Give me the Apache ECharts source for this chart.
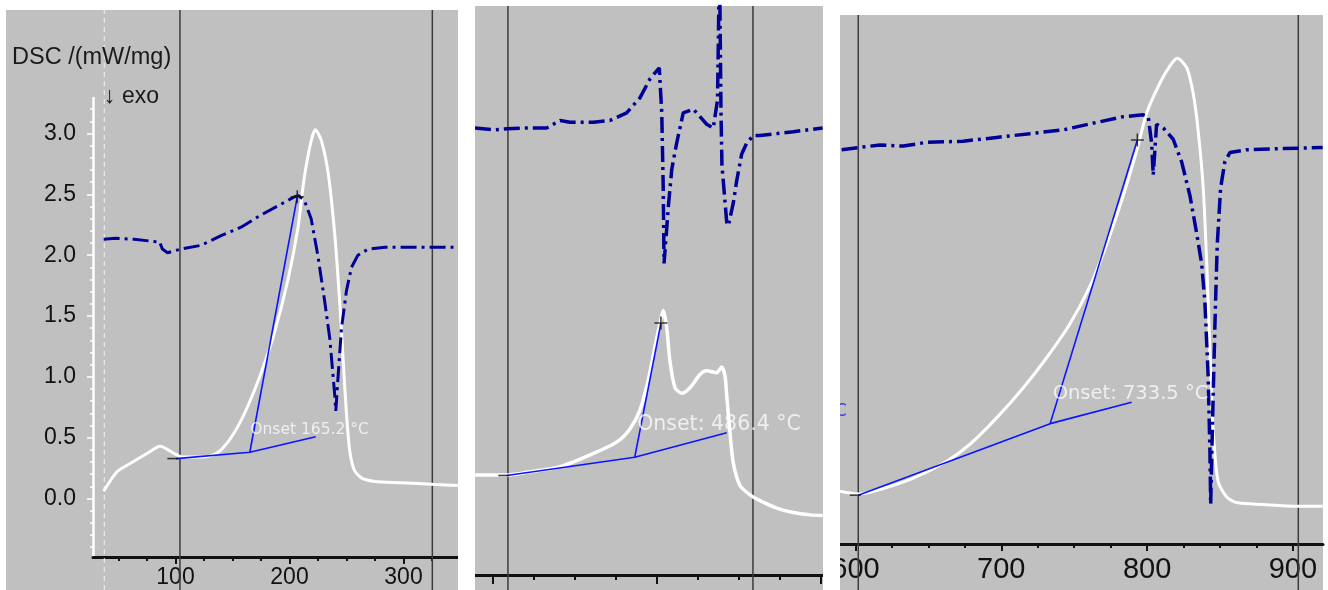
<!DOCTYPE html>
<html>
<head>
<meta charset="utf-8">
<title>DSC</title>
<script src="https://cdn.jsdelivr.net/npm/echarts@6/dist/echarts.min.js"></script>
<style>
  html, body { margin: 0; padding: 0; background: #ffffff; }
  #chart { width: 1328px; height: 590px; }
</style>
</head>
<body>
<div id="chart"></div>
<script>
// ---- Segment 1 (room temperature to 350 °C) -------------------------------
const dsc1 = [[37,0.06],[48.7,0.22],[60.6,0.29],[75,0.37],[86.6,0.43],[98.7,0.37],[106,0.34],[119,0.34],[131,0.35],[140,0.40],[151.5,0.54],[163,0.75],[175,1.03],[187,1.37],[198.7,1.80],[207.5,2.23],[213,2.64],[219,2.94],[222.7,3.03],[228,2.94],[234,2.67],[239.7,2.17],[244,1.62],[247,1.15],[250,0.69],[253,0.38],[257,0.23],[263,0.17],[275,0.14],[298,0.13],[327.8,0.115],[347.8,0.106]];
const ddsc1 = [[37,2.13],[47.4,2.14],[63.6,2.13],[84,2.11],[86,2.11],[88.5,2.05],[93,2.02],[104.6,2.05],[122,2.08],[140,2.16],[157.5,2.23],[175,2.33],[192.7,2.42],[204.5,2.48],[208,2.49],[213,2.45],[219,2.30],[225,1.99],[230.9,1.62],[235.4,1.31],[239.7,0.85],[240.6,0.72],[242.6,1.0],[245.6,1.40],[250,1.71],[254.4,1.90],[260,2.0],[269,2.05],[283.8,2.065],[327.6,2.065],[347.8,2.065]];

// ---- Segment 2 (390 – 600 °C) ---------------------------------------------
const dsc2 = [[389,0.205],[408.4,0.205],[420.5,0.227],[440.9,0.273],[461.2,0.381],[475.4,0.474],[483.5,0.582],[489.6,0.736],[494.7,0.984],[498.8,1.26],[501.8,1.445],[503.8,1.553],[505.9,1.415],[507.9,1.137],[511,0.92],[515.1,0.875],[520.1,0.92],[526.2,1.029],[530.3,1.06],[536.4,1.044],[539.5,1.09],[541.5,1.013],[542.5,0.859],[544.5,0.551],[546.5,0.304],[550.6,0.119],[556.7,0.042],[562.8,-0.005],[573,-0.066],[583.1,-0.103],[593.3,-0.122],[601,-0.128]];
const ddsc2 = [[389,3.049],[400.2,3.034],[408.4,3.043],[420.5,3.049],[432.7,3.049],[440.9,3.111],[447,3.096],[461.2,3.096],[471.3,3.111],[481.5,3.173],[489.6,3.296],[495.7,3.451],[501.4,3.543],[502.9,3.173],[503.8,2.556],[504.3,1.939],[506.9,2.402],[509,2.71],[512,2.926],[516,3.173],[522.1,3.204],[526.2,3.142],[530.3,3.08],[534.3,3.049],[536.9,3.279],[538.1,4.43],[539,3.197],[539.6,2.741],[540.4,2.617],[542.5,2.279],[543.5,2.248],[546.5,2.433],[548.6,2.617],[551.6,2.834],[554.7,2.926],[558.7,2.988],[562.8,2.988],[573,3.003],[583.1,3.019],[601,3.049]];

// ---- Segment 3 (590 – 920 °C) ---------------------------------------------
const dsc3 = [[589.4,-0.093],[601.9,-0.115],[616.8,-0.078],[639.6,0.015],[662.6,0.154],[678.5,0.293],[696.8,0.509],[715.1,0.756],[731.1,1.002],[747.1,1.28],[760.8,1.589],[772.2,1.929],[783.6,2.33],[792.9,2.7],[799.7,3.008],[808.9,3.256],[815.7,3.394],[820.7,3.456],[827.2,3.379],[831.7,3.163],[835.1,2.854],[838.5,2.391],[840.9,1.774],[843.2,1.002],[845.4,0.385],[848.8,-0.016],[854.6,-0.139],[861.4,-0.185],[879.7,-0.201],[902.5,-0.216],[920.4,-0.216]];
const ddsc3 = [[590.5,2.707],[601.9,2.725],[616.8,2.746],[632.8,2.737],[648.8,2.768],[673.9,2.777],[696.8,2.808],[719.6,2.839],[742.5,2.87],[765.4,2.931],[783.6,2.978],[797.3,2.993],[800.8,2.978],[803.1,2.761],[804.2,2.499],[806.5,2.916],[811.1,2.885],[817.9,2.793],[823.7,2.607],[829.4,2.33],[834,2.021],[837.4,1.774],[839.6,1.466],[841.9,0.848],[843.1,0.231],[843.6,-0.201],[845,0.539],[846.6,1.311],[848.1,1.929],[850.4,2.391],[853.3,2.607],[856.8,2.684],[868.2,2.707],[890.9,2.716],[920.4,2.725]];

// ---- Onset evaluation per segment ------------------------------------------
const onsetTemp = [165.2, 486.4, 733.5];
const onsetLevel = [0.38, 0.35, 0.462];
const onsetPrefix = ['Onset ', 'Onset: ', 'Onset: '];
const baselineStart = [[100.3, 0.328], [408.4, 0.201], [601.9, -0.124]];
const baselineEnd = [[223, 0.507], [542.5, 0.551], [789.4, 0.638]];
const tangentTop = [[206.8, 2.48], [502.4, 1.451], [793.3, 2.787]];

// ---- Cursor lines (°C) ------------------------------------------------------
const cursors = [[103.9, 325.3], [409.1, 558.5], [601.9, 903.7]];
const startMark1 = 37.5;

// ---- Axis ticks -------------------------------------------------------------
const xLabels1 = [100, 200, 300];
const xLabels3 = [600, 700, 800, 900];
const xMajor2 = [400, 500, 600];
const yLabels1 = [0.0, 0.5, 1.0, 1.5, 2.0, 2.5, 3.0];

function steps(from, to, step) {
  const out = [];
  for (let v = from; v <= to + 1e-9; v += step) out.push(Math.round(v * 100) / 100);
  return out;
}

// ---- Layout -----------------------------------------------------------------
const panels = [
  { bg: [6, 10, 452, 580], grid: { left: 93, top: 98, width: 365, height: 459 }, over: { top: 10, height: 580 }, x: [27.63, 347.81], y: [-0.481, 3.292] },
  { bg: [475, 6, 348, 584], grid: { left: 475, top: 6, width: 348, height: 569 }, over: { top: 6, height: 584 }, x: [389.02, 601.22], y: [-0.6148, 4.0492] },
  { bg: [840, 15, 483, 575], grid: { left: 840, top: 15, width: 483, height: 529 }, over: { top: 15, height: 575 }, x: [589.37, 920.64], y: [-0.5246, 3.8115] }
];
const dscData = [dsc1, dsc2, dsc3];
const ddscData = [ddsc1, ddsc2, ddsc3];
const minorTicks = [steps(50, 325, 25), steps(400, 600, 25), steps(600, 900, 25)];
const majorTicks = [xLabels1, xMajor2, xLabels3];

const grids = [], xAxes = [], yAxes = [], series = [];
const BLACK = '#111111';

panels.forEach((p, i) => {
  const g = grids.length;
  grids.push(Object.assign({ containLabel: false }, p.grid));
  grids.push({ left: p.grid.left, width: p.grid.width, top: p.over.top, height: p.over.height });

  // main temperature axis
  const xMain = xAxes.length;
  xAxes.push({
    type: 'value', gridIndex: g, position: 'bottom', min: p.x[0], max: p.x[1],
    axisLine: { show: true, onZero: false, lineStyle: { color: BLACK, width: 3 } },
    axisTick: { show: true, customValues: minorTicks[i], length: i === 1 ? 5 : 4, lineStyle: { color: BLACK, width: 2 } },
    axisLabel: i === 1 ? { show: false } : {
      show: true, customValues: i === 0 ? xLabels1 : xLabels3,
      color: BLACK, margin: i === 0 ? 9 : 11,
      fontFamily: i === 0 ? 'Liberation Sans, Arial, sans-serif' : 'Liberation Sans Narrow, Liberation Sans, Arial, sans-serif',
      fontSize: i === 0 ? 23 : 29
    },
    splitLine: { show: false }
  });
  // longer ticks at hundreds
  xAxes.push({
    type: 'value', gridIndex: g, position: 'bottom', min: p.x[0], max: p.x[1],
    axisLine: { show: false, onZero: false },
    axisTick: { show: true, customValues: majorTicks[i], length: i === 1 ? 9 : 7, lineStyle: { color: BLACK, width: 2 } },
    axisLabel: { show: false }, splitLine: { show: false }
  });
  // overlay axis for cursor lines
  const xOver = xAxes.length;
  xAxes.push({ type: 'value', gridIndex: g + 1, min: p.x[0], max: p.x[1], show: false });

  const yMain = yAxes.length;
  if (i === 0) {
    yAxes.push({
      type: 'value', gridIndex: g, position: 'left', min: p.y[0], max: p.y[1],
      axisLine: { show: true, onZero: false, lineStyle: { color: '#ffffff', width: 2.5 } },
      axisTick: { show: true, customValues: steps(-0.4, 3.2, 0.1), length: 3, lineStyle: { color: '#ffffff', width: 1.5 } },
      axisLabel: { show: true, customValues: yLabels1, color: BLACK, margin: 17, fontSize: 23,
        fontFamily: 'Liberation Sans, Arial, sans-serif', formatter: v => v.toFixed(1) },
      splitLine: { show: false }
    });
    yAxes.push({
      type: 'value', gridIndex: g, position: 'left', min: p.y[0], max: p.y[1],
      axisLine: { show: false, onZero: false },
      axisTick: { show: true, customValues: yLabels1, length: 6, lineStyle: { color: '#ffffff', width: 1.5 } },
      axisLabel: { show: false }, splitLine: { show: false }
    });
  } else {
    yAxes.push({ type: 'value', gridIndex: g, min: p.y[0], max: p.y[1], show: false, splitLine: { show: false } });
  }
  const yOver = yAxes.length;
  yAxes.push({ type: 'value', gridIndex: g + 1, min: 0, max: 1, show: false });

  // cursor lines spanning the whole panel height
  cursors[i].forEach(t => {
    series.push({
      type: 'line', xAxisIndex: xOver, yAxisIndex: yOver, data: [[t, 0], [t, 1]],
      showSymbol: false, silent: true, z: 1,
      lineStyle: { color: '#3c3c3c', width: 1.5 }
    });
  });
  if (i === 0) {
    series.push({
      type: 'line', xAxisIndex: xOver, yAxisIndex: yOver, data: [[startMark1, 0], [startMark1, 1]],
      showSymbol: false, silent: true, z: 1,
      lineStyle: { color: '#f2f2f2', width: 1, type: [5, 4] }
    });
  }

  // DSC signal
  series.push({
    type: 'line', xAxisIndex: xMain, yAxisIndex: yMain, data: dscData[i],
    showSymbol: false, smooth: 0.25, z: 4,
    lineStyle: { color: '#ffffff', width: i === 1 ? 3.5 : 3 }
  });
  // derivative signal, dash-dot
  series.push({
    type: 'line', xAxisIndex: xMain, yAxisIndex: yMain, data: ddscData[i],
    showSymbol: false, z: 5,
    lineStyle: { color: '#000096', width: i === 0 ? 3 : 3.5, type: [16, 5, 3, 5] }
  });

  // onset construction: baseline and inflection tangent
  const onsetPt = [onsetTemp[i], onsetLevel[i]];
  series.push({
    type: 'line', xAxisIndex: xMain, yAxisIndex: yMain,
    data: [baselineStart[i], onsetPt, baselineEnd[i]],
    showSymbol: false, z: 6, lineStyle: { color: '#0a14ff', width: 1.6 }
  });
  series.push({
    type: 'line', xAxisIndex: xMain, yAxisIndex: yMain,
    data: [onsetPt, tangentTop[i]],
    showSymbol: false, z: 6, lineStyle: { color: '#0a14ff', width: 1.6 }
  });
  // markers: cross at tangent end, dash at baseline start
  series.push({
    type: 'scatter', xAxisIndex: xMain, yAxisIndex: yMain, data: [tangentTop[i]],
    symbol: 'path://M0,4.4H10V5.6H0ZM4.4,0H5.6V10H4.4Z', symbolSize: 13, z: 7,
    itemStyle: { color: BLACK }, silent: true
  });
  series.push({
    type: 'scatter', xAxisIndex: xMain, yAxisIndex: yMain, data: [baselineStart[i]],
    symbol: 'rect', symbolSize: [11, 1.6], symbolOffset: [-3, 0], z: 7,
    itemStyle: { color: BLACK }, silent: true
  });
  // onset annotation
  const lblOffset = [[0, -22], [2, -33], [2, -30]][i];
  series.push({
    type: 'scatter', xAxisIndex: xMain, yAxisIndex: yMain, data: [onsetPt],
    symbolSize: 1, itemStyle: { color: 'rgba(0,0,0,0)' }, silent: true, z: 8,
    label: {
      show: true, position: 'right', distance: 0, offset: lblOffset,
      formatter: () => onsetPrefix[i] + onsetTemp[i].toFixed(1) + ' °C',
      color: 'rgba(255,255,255,0.93)', fontFamily: 'DejaVu Sans, sans-serif',
      fontSize: [15.5, 20.5, 19.5][i]
    }
  });
});

const graphic = [];
panels.forEach(p => {
  graphic.push({ type: 'rect', z: -100, silent: true,
    shape: { x: p.bg[0], y: p.bg[1], width: p.bg[2], height: p.bg[3] },
    style: { fill: '#c0c0c0' } });
});
graphic.push({ type: 'text', z: 50, x: 12, y: 58, silent: true,
  style: { text: 'DSC /(mW/mg)', fill: '#1a1a1a', font: '23.5px "Liberation Sans", Arial, sans-serif', textVerticalAlign: 'middle' } });
graphic.push({ type: 'text', z: 50, x: 104, y: 97, silent: true,
  style: { text: '↓ exo', fill: '#1a1a1a', font: '23px "Liberation Sans", "DejaVu Sans", sans-serif', textVerticalAlign: 'middle' } });
graphic.push({ type: 'text', z: 50, x: 835, y: 412, silent: true,
  style: { text: 'C', fill: '#3a3aff', font: '17px "DejaVu Sans", sans-serif', textVerticalAlign: 'middle' } });
// white gaps between the segments
graphic.push({ type: 'rect', z: 100, silent: true, shape: { x: 458, y: 0, width: 17, height: 590 }, style: { fill: '#ffffff' } });
graphic.push({ type: 'rect', z: 100, silent: true, shape: { x: 823, y: 0, width: 17, height: 590 }, style: { fill: '#ffffff' } });

const chart = echarts.init(document.getElementById('chart'), null, { renderer: 'canvas' });
chart.setOption({
  animation: false,
  backgroundColor: '#ffffff',
  grid: grids,
  xAxis: xAxes,
  yAxis: yAxes,
  series: series,
  graphic: { elements: graphic }
});
</script>
</body>
</html>
